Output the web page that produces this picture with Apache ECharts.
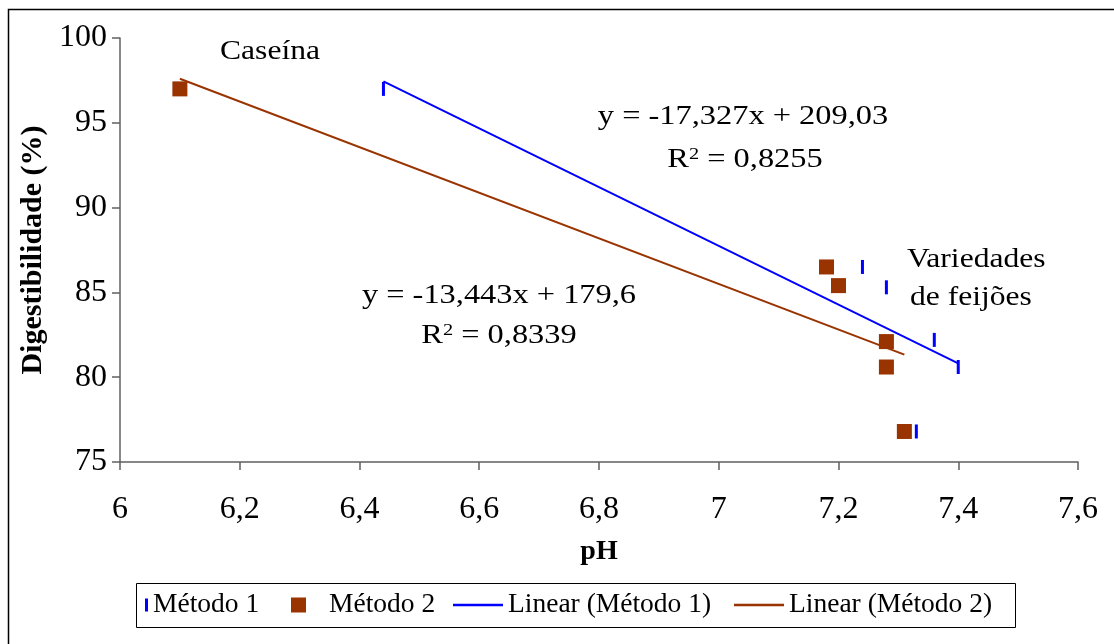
<!DOCTYPE html>
<html><head><meta charset="utf-8">
<script src="https://cdn.jsdelivr.net/npm/echarts@6/dist/echarts.min.js"></script>
<style>html,body{margin:0;padding:0;background:#fff}#c{width:1114px;height:644px}</style>
</head><body><div id="c"></div>
<script>
// ---- data ----
const xTickMin = 6, xTickMax = 7.6, xTickStep = 0.2;
const yTickMin = 75, yTickMax = 100, yTickStep = 5;
const metodo1X = [6.44, 7.24, 7.28, 7.36, 7.40, 7.33];
const metodo1Y = [97.0, 86.5, 85.3, 82.2, 80.6, 76.8];
const metodo2X = [6.10, 7.18, 7.20, 7.28, 7.28, 7.31];
const metodo2Y = [97.0, 86.5, 85.4, 82.1, 80.6, 76.8];
const trend1 = [-17.327, 209.03];   // slope, intercept
const trend2 = [-13.443, 179.6];
const r2Values = [0.8255, 0.8339];
const seriesNames = ['Método 1', 'Método 2', 'Linear (Método 1)', 'Linear (Método 2)'];
const annotCaseina = 'Caseína';
const annotVariedades = ['Variedades', 'de feijões'];

const FONT = 'Liberation Serif';
const BLUE = '#0000FF', BROWN = '#993300';
const fmtComma = v => String(v).replace('.', ',');

function zip(xs, ys) { return xs.map((x, i) => [x, ys[i]]); }
function trendData(xs, c) {
  const lo = Math.min(...xs), hi = Math.max(...xs);
  return [[lo, c[0] * lo + c[1]], [hi, c[0] * hi + c[1]]];
}
function eqText(c) {
  return 'y = ' + fmtComma(c[0]) + 'x + ' + fmtComma(c[1]);
}

const chart = echarts.init(document.getElementById('c'), null, {renderer: 'canvas'});
const baseText = {fontFamily: FONT, color: '#000'};
const annotStyle = (txt, align) => ({
  text: txt, fontFamily: FONT, fontSize: 27, fill: '#000', align: align || 'center', verticalAlign: 'middle',
  rich: {sup: {fontFamily: FONT, fontSize: 17, fill: '#000', verticalAlign: 'top', padding: [0, 0, 6, 0]}}
});
const legendText = {fontFamily: FONT, fontSize: 27.5, color: '#000'};
const LEG_TOP = 591;

chart.setOption({
  animation: false,
  backgroundColor: '#fff',
  grid: {left: 120, right: 36, top: 38, bottom: 182, outerBoundsMode: 'none'},
  xAxis: {
    type: 'value', min: xTickMin, max: xTickMax, interval: xTickStep,
    name: 'pH', nameLocation: 'middle', nameGap: 76,
    nameTextStyle: {fontFamily: FONT, fontSize: 28, fontWeight: 'bold', color: '#000'},
    axisLine: {show: true, onZero: false, lineStyle: {color: '#606060', width: 1.5}},
    axisTick: {show: true, inside: false, length: 8, lineStyle: {color: '#606060', width: 1.5}},
    splitLine: {show: false},
    axisLabel: {...baseText, fontSize: 32, margin: 32, formatter: v => fmtComma(+v.toFixed(1))}
  },
  yAxis: {
    type: 'value', min: yTickMin, max: yTickMax, interval: yTickStep,
    name: 'Digestibilidade (%)', nameLocation: 'middle', nameGap: 69, nameRotate: 90,
    nameTextStyle: {fontFamily: FONT, fontSize: 30, fontWeight: 'bold', color: '#000'},
    axisLine: {show: true, onZero: false, lineStyle: {color: '#606060', width: 1.5}},
    axisTick: {show: true, inside: false, length: 8, lineStyle: {color: '#606060', width: 1.5}},
    splitLine: {show: false},
    axisLabel: {...baseText, fontSize: 32, margin: 13}
  },
  legend: [
    {left: 145, top: LEG_TOP, padding: 0, itemWidth: 3, itemHeight: 13, selectedMode: false,
     data: [{name: seriesNames[0], icon: 'rect'}], textStyle: legendText},
    {left: 291, top: LEG_TOP, padding: 0, itemWidth: 15, itemHeight: 15, selectedMode: false,
     data: [{name: seriesNames[1], icon: 'rect'}], textStyle: {...legendText, padding: [0, 0, 0, 18]}},
    {left: 453, top: LEG_TOP, padding: 0, itemWidth: 50, itemHeight: 2.5, selectedMode: false,
     data: [{name: seriesNames[2], icon: 'rect'}], textStyle: legendText},
    {left: 734, top: LEG_TOP, padding: 0, itemWidth: 50, itemHeight: 2.5, selectedMode: false,
     data: [{name: seriesNames[3], icon: 'rect'}], textStyle: legendText}
  ],
  series: [
    {name: seriesNames[0], type: 'scatter', symbol: 'rect', symbolSize: [3, 14],
     itemStyle: {color: BLUE, opacity: 1}, data: zip(metodo1X, metodo1Y), z: 3},
    {name: seriesNames[1], type: 'scatter', symbol: 'rect', symbolSize: 15,
     itemStyle: {color: BROWN, opacity: 1}, data: zip(metodo2X, metodo2Y), z: 3},
    {name: seriesNames[2], type: 'line', symbol: 'none', showSymbol: false,
     lineStyle: {color: BLUE, width: 2}, itemStyle: {color: BLUE}, data: trendData(metodo1X, trend1), z: 4},
    {name: seriesNames[3], type: 'line', symbol: 'none', showSymbol: false,
     lineStyle: {color: BROWN, width: 2}, itemStyle: {color: BROWN}, data: trendData(metodo2X, trend2), z: 4}
  ],
  graphic: [
    {type: 'rect', silent: true, shape: {x: 8.5, y: 9.5, width: 1200, height: 1000},
     style: {fill: 'none', stroke: '#000', lineWidth: 1.5}},
    {type: 'rect', silent: true, shape: {x: 136.5, y: 583.5, width: 879, height: 44},
     style: {fill: 'none', stroke: '#000', lineWidth: 1}},
    {type: 'text', x: 270, y: 52, scaleX: 1.17, style: annotStyle(annotCaseina)},
    {type: 'text', x: 743, y: 117, scaleX: 1.2, style: annotStyle(eqText(trend1))},
    {type: 'text', x: 745, y: 160, scaleX: 1.2, style: annotStyle('R{sup|2} = ' + fmtComma(r2Values[0]))},
    {type: 'text', x: 907, y: 260, scaleX: 1.17, style: annotStyle(annotVariedades[0], 'left')},
    {type: 'text', x: 910, y: 298, scaleX: 1.17, style: annotStyle(annotVariedades[1], 'left')},
    {type: 'text', x: 499, y: 296, scaleX: 1.2, style: annotStyle(eqText(trend2))},
    {type: 'text', x: 499, y: 336, scaleX: 1.2, style: annotStyle('R{sup|2} = ' + fmtComma(r2Values[1]))}
  ]
});
</script></body></html>
